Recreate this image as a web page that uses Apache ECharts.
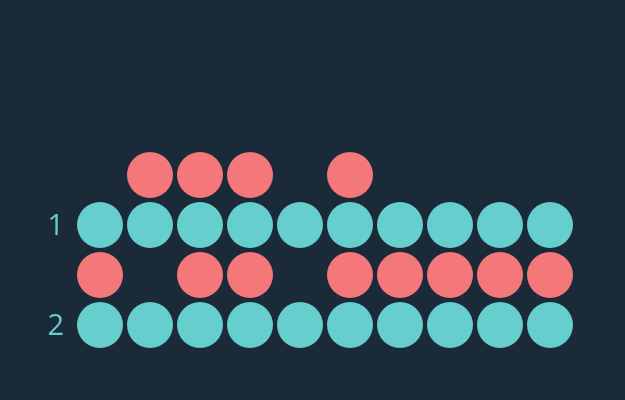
<!DOCTYPE html>
<html><head><meta charset="utf-8">
<script src="https://cdn.jsdelivr.net/npm/echarts@6/dist/echarts.min.js"></script>
<style>html,body{margin:0;padding:0;background:#1b2a39;}#c{width:625px;height:400px;}</style>
</head><body><div id="c"></div>
<script>
const columns = ['1','2','3','4','5','6','7','8','9','10'];
const rowLabels = [1, 2];
const tealRow1 = [1,1,1,1,1,1,1,1,1,1];
const tealRow2 = [1,1,1,1,1,1,1,1,1,1];
const redRow1 = [0,1,1,1,0,1,0,0,0,0];
const redRow2 = [1,0,1,1,0,1,1,1,1,1];

function pts(flags, y) {
  const out = [];
  flags.forEach((f, i) => { if (f) out.push([columns[i], y]); });
  return out;
}
const tealData = pts(tealRow1, rowLabels[0]).concat(pts(tealRow2, rowLabels[1]));
const redData = pts(redRow1, rowLabels[0] - 0.5).concat(pts(redRow2, rowLabels[1] - 0.5));

const chart = echarts.init(document.getElementById('c'));
chart.setOption({
  backgroundColor: '#1b2a39',
  animation: false,
  grid: { left: 75, right: 50, top: 125, bottom: 25 },
  xAxis: { type: 'category', data: columns, show: false },
  yAxis: {
    type: 'value', inverse: true, min: 0, max: 2.5, interval: 0.5,
    splitLine: { show: false }, axisLine: { show: false }, axisTick: { show: false },
    axisLabel: {
      color: '#66cecd', fontSize: 29, fontFamily: 'Open Sans', margin: 11,
      formatter: v => (rowLabels.indexOf(v) >= 0 ? '{a|' + v + '}' : ''),
      rich: { a: { color: '#66cecd', fontSize: 29, fontFamily: 'Open Sans', padding: [4, 0, 0, 0] } }
    }
  },
  series: [
    { type: 'scatter', data: tealData, symbolSize: 46, itemStyle: { color: '#66cecd', opacity: 1 } },
    { type: 'scatter', data: redData, symbolSize: 46, itemStyle: { color: '#f4777a', opacity: 1 } }
  ]
});
</script></body></html>
